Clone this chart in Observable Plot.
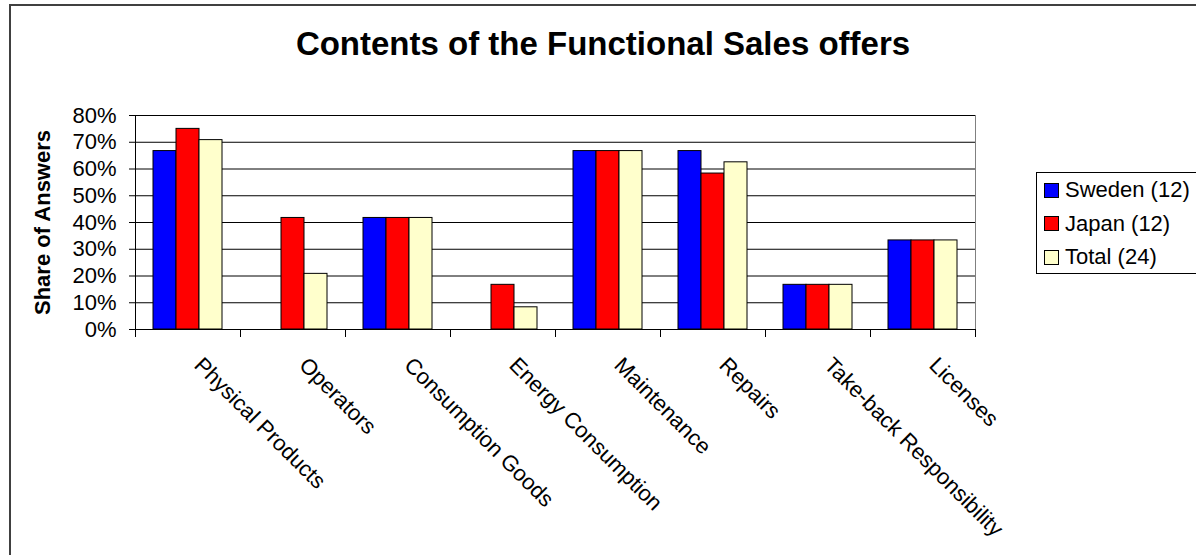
<!DOCTYPE html>
<html><head><meta charset="utf-8">
<script src="https://cdn.jsdelivr.net/npm/d3@7"></script>
<script src="https://cdn.jsdelivr.net/npm/@observablehq/plot@0.6"></script>
<style>
body{margin:0;background:#fff;font-family:"Liberation Sans",Arial,sans-serif;}
#wrap{position:relative;width:1196px;height:555px;overflow:hidden;background:#fff;}
#border{position:absolute;left:9px;top:4px;width:1300px;height:700px;border:2px solid #404040;}
#chart{position:absolute;left:0;top:0;}
#title{position:absolute;left:0;width:1206px;top:27px;text-align:center;font-weight:bold;font-size:33px;line-height:1;color:#000;}
#legend{position:absolute;left:1036px;top:172px;width:200px;height:100px;border:1px solid #000;background:#fff;}
.item{position:absolute;left:7px;height:24px;display:flex;align-items:center;font-size:22px;color:#000;white-space:nowrap;}
.sw{width:13px;height:13px;border:1px solid #000;margin-right:6px;flex:none;}
[aria-label="y-axis label"]{font-weight:bold;}
</style></head><body>
<div id="wrap"><div id="border"></div><div id="chart"></div><div id="title">Contents of the Functional Sales offers</div><div id="legend"></div></div>
<script>
const categories = ["Physical Products","Operators","Consumption Goods","Energy Consumption","Maintenance","Repairs","Take-back Responsibility","Licenses"];
const series = ["Sweden (12)","Japan (12)","Total (24)"];
const sweden = [0.667,0,0.417,0,0.667,0.667,0.167,0.333];
const japan  = [0.75,0.417,0.417,0.167,0.667,0.583,0.167,0.333];
const total  = [0.708,0.208,0.417,0.083,0.667,0.625,0.167,0.333];
const colors = ["#0000FF","#FF0000","#FFFFCC"];
const yTicks = [0,0.1,0.2,0.3,0.4,0.5,0.6,0.7,0.8];

const values = [sweden, japan, total];
const rows = categories.flatMap((c,i)=>series.map((s,j)=>({category:c, series:s, value:values[j][i]})));

const W=1196, H=555, mL=133, mR=219, mT=115, mB=226;
const plotH = H-mT-mB;

const chart = Plot.plot({
  width:W, height:H, marginLeft:mL, marginRight:mR, marginTop:mT, marginBottom:mB,
  style:{fontFamily:'"Liberation Sans",Arial,sans-serif', fontSize:"22px", color:"#000", background:"transparent", overflow:"visible"},
  fx:{domain:categories, padding:0, label:null},
  x:{domain:series, paddingInner:0, paddingOuter:0.75, axis:null},
  y:{domain:[0,0.8], label:null},
  color:{domain:series, range:colors},
  marks:[
    Plot.ruleY(yTicks.slice(1), {stroke:"#000", strokeOpacity:1}),
    Plot.frame({anchor:"right", facet:"super", stroke:"#808080"}),
    Plot.frame({anchor:"left", insetTop:plotH, insetBottom:-7, stroke:"#000"}),
    Plot.frame({anchor:"right", insetTop:plotH, insetBottom:-7, stroke:"#000"}),
    Plot.barY(rows.filter(d=>d.value>0), {fx:"category", x:"series", y:"value", fill:"series", stroke:"#000", strokeWidth:1}),
    Plot.ruleY([0], {stroke:"#000"}),
    Plot.frame({anchor:"left", facet:"super", stroke:"#000"}),
    Plot.axisY({ticks:yTicks, tickFormat:d3.format(".0%"), tickSize:6, tickPadding:13, label:"Share of Answers", labelArrow:false, labelAnchor:"center", labelOffset:101}),
    Plot.axisFx({anchor:"bottom", tickRotate:45, tickSize:0, tickPadding:32, dx:10, label:null})
  ]
});
document.getElementById("chart").appendChild(chart);

const lg = document.getElementById("legend");
series.forEach((s,i)=>{
  const it = document.createElement("div");
  it.className="item";
  it.style.top = (5 + i*33.5) + "px";
  const sw = document.createElement("div");
  sw.className="sw"; sw.style.background = colors[i];
  const tx = document.createElement("span");
  tx.textContent = s;
  it.appendChild(sw); it.appendChild(tx);
  lg.appendChild(it);
});
</script>
</body></html>
